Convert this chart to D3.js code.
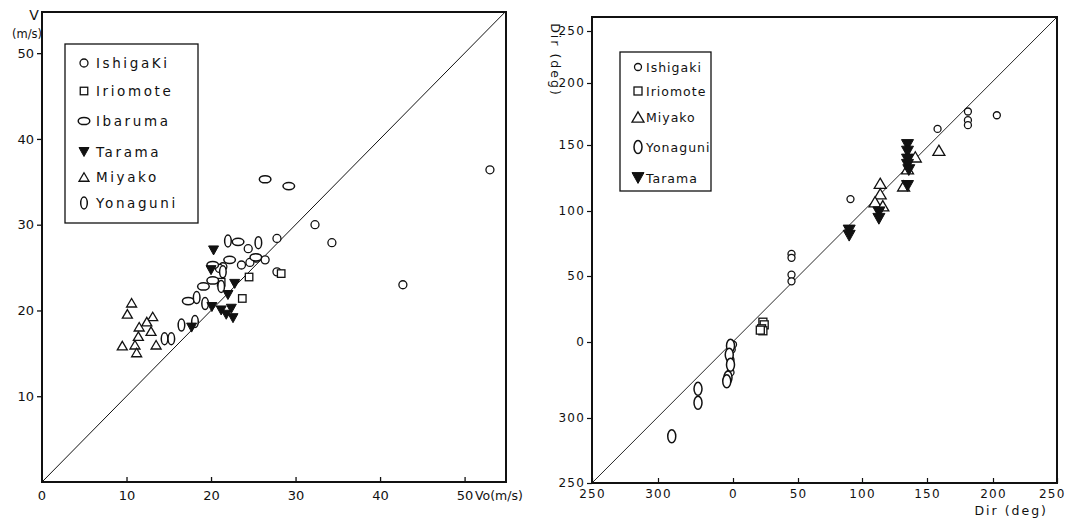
<!DOCTYPE html>
<html>
<head>
<meta charset="utf-8">
<script src="https://cdn.jsdelivr.net/npm/d3@7"></script>
<style>
  body { margin: 0; background: #fff; }
  svg { display: block; }
  text { font-family: "DejaVu Sans", sans-serif; fill: #111; }
</style>
</head>
<body>
<svg id="chart" width="1066" height="519"></svg>
<script>
// ---- left panel : wind speed, V vs Vo (m/s) ----
const speedTicks = [10, 20, 30, 40, 50]
const speedLegend = ["IshigaKi", "Iriomote", "Ibaruma", "Tarama", "Miyako", "Yonaguni"]

const spIshigaki = [[53.0,36.4],[32.3,30.0],[34.3,27.9],[42.7,23.0],[27.8,28.4],[24.4,27.2],[23.6,25.3],
  [24.6,25.6],[25.4,26.1],[26.4,25.9],[27.8,24.5],[21.4,25.1],[21.0,24.9]]
const spIriomote = [[24.5,23.9],[28.3,24.3],[23.7,21.4],[21.2,23.3]]
const spIbaruma = [[26.4,35.3],[29.2,34.5],[23.2,28.0],[25.3,26.2],[22.2,25.9],[20.2,25.3],[20.2,23.5],
  [19.1,22.8],[17.3,21.1]]
const spYonaguni = [[22.0,28.1],[25.6,27.9],[21.4,24.5],[21.2,22.8],[18.3,21.5],[19.3,20.8],[16.5,18.3],
  [18.1,18.7],[14.5,16.7],[15.3,16.7]]
const spMiyako = [[10.6,20.9],[10.1,19.6],[11.5,18.1],[13.1,19.3],[12.4,18.7],[12.9,17.6],[11.4,17.0],
  [13.5,16.0],[9.5,15.9],[11.0,16.0],[11.2,15.1]]
const spTarama = [[20.3,27.0],[20.0,24.7],[22.8,23.1],[22.0,21.8],[20.1,20.4],[21.2,20.0],[22.4,20.2],
  [21.8,19.5],[22.6,19.1],[17.7,18.0]]

// ---- right panel : wind direction (deg), values below 0 mean 360+v ----
const dirTicks = [-110, -60, 0, 50, 100, 150, 200, 250]
const dirLegend = ["Ishigaki", "Iriomote", "Miyako", "Yonaguni", "Tarama"]

const drIshigaki = [[181,177],[181,170],[181,166],[203,174],[158,163],[91,109],[45,67],[45,64],[45,51],[45,46],
  [-1,-6],[-2,-14],[-2,-24],[0,-2]]
const drIriomote = [[23,15],[24,13],[22,10],[23,8.5],[21,9]]
const drMiyako = [[159,146],[132,119],[141,141],[135,132],[114,121],[114,113],[110,107],[116,104]]
const drYonaguni = [[-28,-37],[-28,-48],[-49,-74],[-2,-3],[-3,-10],[-2,-18],[-4,-28],[-5,-31]]
const drTarama = [[135,150],[135,145],[135,139],[135,135],[136,131],[135,119],[113,99],[113,94],[90,85],[90,81]]

const svg = d3.select('#chart')

// symbol drawing, sizes given per panel
function drawSymbol(g, kind, x, y, s) {
  if (kind === 'circle') {
    g.append('circle').attr('cx', x).attr('cy', y).attr('r', s.r)
      .attr('fill', '#fff').attr('stroke', '#111').attr('stroke-width', 1.3)
  } else if (kind === 'square') {
    g.append('rect').attr('x', x - s.sq/2).attr('y', y - s.sq/2).attr('width', s.sq).attr('height', s.sq)
      .attr('fill', '#fff').attr('stroke', '#111').attr('stroke-width', 1.3)
  } else if (kind === 'hoval') {
    g.append('ellipse').attr('cx', x).attr('cy', y).attr('rx', s.hrx).attr('ry', s.hry)
      .attr('fill', '#fff').attr('stroke', '#111').attr('stroke-width', 1.5)
  } else if (kind === 'voval') {
    g.append('ellipse').attr('cx', x).attr('cy', y).attr('rx', s.vrx).attr('ry', s.vry)
      .attr('fill', '#fff').attr('stroke', '#111').attr('stroke-width', 1.5)
  } else if (kind === 'tri') {
    const w = s.tri, h = s.tri * 0.85
    g.append('path').attr('d', `M${x},${y - h/2}L${x + w/2},${y + h/2}L${x - w/2},${y + h/2}Z`)
      .attr('fill', '#fff').attr('stroke', '#111').attr('stroke-width', 1.3)
  } else if (kind === 'down') {
    const w = s.tri, h = s.tri * 0.9
    g.append('path').attr('d', `M${x - w/2},${y - h/2}L${x + w/2},${y - h/2}L${x},${y + h/2}Z`)
      .attr('fill', '#111').attr('stroke', '#111').attr('stroke-width', 1)
  }
}

// ================= left panel =================
const lx = d3.scaleLinear().domain([0, 54.9]).range([42, 506])
const ly = d3.scaleLinear().domain([0, 54.8]).range([482, 12])
const L = svg.append('g')

L.append('rect').attr('x', 42).attr('y', 12).attr('width', 464).attr('height', 470)
  .attr('fill', 'none').attr('stroke', '#111').attr('stroke-width', 2)

// 1:1 line
L.append('line').attr('x1', lx(0)).attr('y1', ly(0)).attr('x2', lx(54.8)).attr('y2', ly(54.8))
  .attr('stroke', '#111').attr('stroke-width', 1)

const lxAxis = d3.axisBottom(lx).tickValues(speedTicks).tickSize(-5).tickPadding(9).tickFormat(d3.format('d'))
const lyAxis = d3.axisLeft(ly).tickValues(speedTicks).tickSize(5).tickPadding(3).tickFormat(d3.format('d'))
L.append('g').attr('transform', 'translate(0,482)').call(lxAxis)
L.append('g').attr('transform', 'translate(42,0)').call(lyAxis)
L.selectAll('.domain').remove()
L.selectAll('.tick line').attr('stroke', '#111').attr('stroke-width', 1.3)
L.selectAll('.tick text').style('font-size', '13px').style('font-family', 'DejaVu Sans').attr('fill', '#111')
L.append('text').attr('x', lx(0)).attr('y', 500).attr('text-anchor', 'middle').style('font-size', '13px').text('0')
L.append('text').attr('x', 475).attr('y', 500).style('font-size', '12.5px').text('Vo(m/s)')
L.append('text').attr('x', 34).attr('y', 20).attr('text-anchor', 'middle').style('font-size', '14px').text('V')
L.append('text').attr('x', 27).attr('y', 38).attr('text-anchor', 'middle').style('font-size', '11.5px').text('(m/s)')

const lsz = { r: 4, sq: 7.5, hrx: 5.8, hry: 3.6, vrx: 3.3, vry: 6, tri: 10 }
const LP = L.append('g')
spIshigaki.forEach(d => drawSymbol(LP, 'circle', lx(d[0]), ly(d[1]), lsz))
spIriomote.forEach(d => drawSymbol(LP, 'square', lx(d[0]), ly(d[1]), lsz))
spIbaruma.forEach(d => drawSymbol(LP, 'hoval', lx(d[0]), ly(d[1]), lsz))
spYonaguni.forEach(d => drawSymbol(LP, 'voval', lx(d[0]), ly(d[1]), lsz))
spMiyako.forEach(d => drawSymbol(LP, 'tri', lx(d[0]), ly(d[1]), lsz))
spTarama.forEach(d => drawSymbol(LP, 'down', lx(d[0]), ly(d[1]), lsz))

// legend
const LL = L.append('g')
LL.append('rect').attr('x', 65).attr('y', 44).attr('width', 133).attr('height', 179)
  .attr('fill', '#fff').attr('stroke', '#111').attr('stroke-width', 1.3)
const lKinds = ['circle', 'square', 'hoval', 'down', 'tri', 'voval']
const lRows = [63, 91, 121, 152, 177, 203]
speedLegend.forEach((name, i) => {
  drawSymbol(LL, lKinds[i], 84, lRows[i], lsz)
  LL.append('text').attr('x', 96).attr('y', lRows[i] + 5).style('font-size', '13.5px')
    .style('letter-spacing', '2.6px').text(name)
})

// ================= right panel =================
const rx = d3.scaleLinear().domain(dirTicks).range([592, 658, 733, 798, 862, 927, 993, 1057])
const ry = d3.scaleLinear().domain(dirTicks.concat([263])).range([483, 418, 342, 276, 211, 145, 83, 31, 17])
const fmtDir = v => String(v < 0 ? v + 360 : v)
const R = svg.append('g')

R.append('rect').attr('x', 592).attr('y', 17).attr('width', 465).attr('height', 466)
  .attr('fill', 'none').attr('stroke', '#111').attr('stroke-width', 2)

R.append('line').attr('x1', rx.range()[0]).attr('y1', ry.range()[0])
  .attr('x2', rx.range()[rx.range().length - 1]).attr('y2', ry.range()[ry.range().length - 1])
  .attr('stroke', '#111').attr('stroke-width', 0.9)

const rxAxis = d3.axisBottom(rx).tickValues(dirTicks).tickSize(-5).tickPadding(6).tickFormat(fmtDir)
const ryAxis = d3.axisLeft(ry).tickValues(dirTicks).tickSize(5).tickPadding(2).tickFormat(fmtDir)
const rxg = R.append('g').attr('transform', 'translate(0,483)').call(rxAxis)
R.append('g').attr('transform', 'translate(592,0)').call(ryAxis)
R.selectAll('.domain').remove()
R.selectAll('.tick line').attr('stroke', '#111').attr('stroke-width', 1.2)
R.selectAll('.tick text').style('font-size', '12px').style('font-family', 'DejaVu Sans')
  .style('letter-spacing', '1.2px').attr('fill', '#111')
// keep the last x label inside the page
rxg.selectAll('.tick text').filter(d => d === 250).attr('text-anchor', 'end').attr('dx', 8)
R.append('text').attr('x', 1048).attr('y', 515).attr('text-anchor', 'end').style('font-size', '12.5px')
  .style('letter-spacing', '2px').text('Dir (deg)')
R.append('text').attr('transform', 'translate(551,60) rotate(90)').attr('text-anchor', 'middle')
  .style('font-size', '12.5px').style('letter-spacing', '2px').text('Dir (deg)')

const rsz = { r: 3.5, sq: 8, hrx: 6, hry: 4, vrx: 4, vry: 6.5, tri: 12 }
const RP = R.append('g')
drIshigaki.forEach(d => drawSymbol(RP, 'circle', rx(d[0]), ry(d[1]), rsz))
drIriomote.forEach(d => drawSymbol(RP, 'square', rx(d[0]), ry(d[1]), rsz))
drYonaguni.forEach(d => drawSymbol(RP, 'voval', rx(d[0]), ry(d[1]), rsz))
drMiyako.forEach(d => drawSymbol(RP, 'tri', rx(d[0]), ry(d[1]), rsz))
drTarama.forEach(d => drawSymbol(RP, 'down', rx(d[0]), ry(d[1]), rsz))

const RL = R.append('g')
RL.append('rect').attr('x', 620).attr('y', 52).attr('width', 91).attr('height', 139)
  .attr('fill', '#fff').attr('stroke', '#111').attr('stroke-width', 1.3)
const rKinds = ['circle', 'square', 'tri', 'voval', 'down']
const rRows = [67, 91, 117, 147, 178]
dirLegend.forEach((name, i) => {
  drawSymbol(RL, rKinds[i], 638, rRows[i], rsz)
  RL.append('text').attr('x', 646).attr('y', rRows[i] + 5).style('font-size', '12.5px')
    .style('letter-spacing', '1px').text(name)
})
</script>
</body>
</html>
